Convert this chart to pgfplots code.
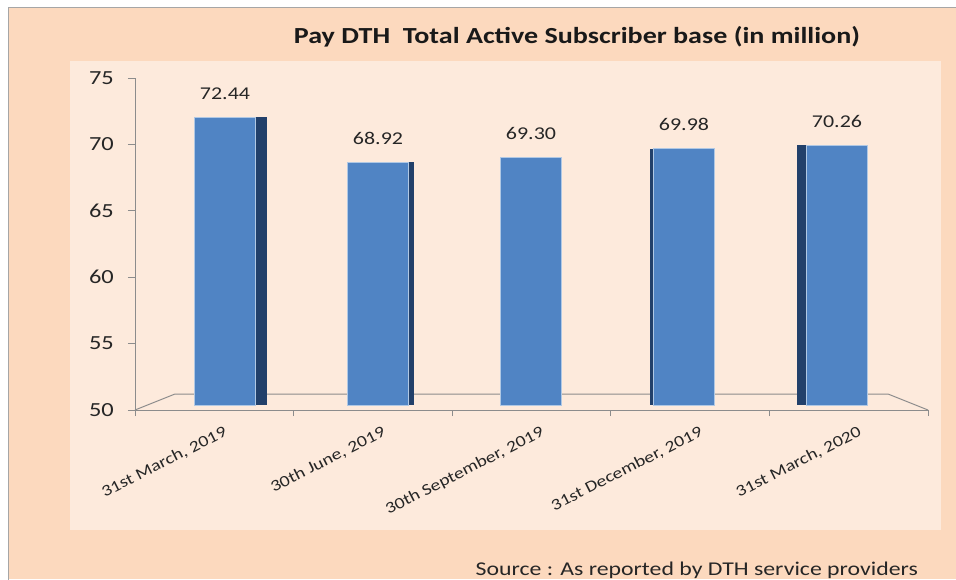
\documentclass[border=0pt]{standalone}
\usepackage{fontspec}
\setmainfont{Carlito}[FakeStretch=1.22]
\usepackage{pgfplots}
\pgfplotsset{compat=1.18}
\definecolor{outerbg}{HTML}{FCD9BE}
\definecolor{innerbg}{HTML}{FDEADC}
\definecolor{barfront}{HTML}{5084C4}
\definecolor{barside}{HTML}{22406A}
\definecolor{gridgray}{HTML}{8C8C8C}
\begin{document}
\begin{tikzpicture}[x=1pt,y=1pt]
\path[use as bounding box] (0,0) rectangle (956,579);
\fill[white] (0,0) rectangle (956,579);
\fill[outerbg] (8,0) rectangle (956,572);
\draw[gray!70, line width=0.8pt] (8,-2) -- (8,572) -- (958,572);
\fill[innerbg] (70,49) rectangle (941,518);
% floor
\draw[gridgray, line width=1pt] (135,169) -- (175,185) -- (888,185) -- (928,169);
% frame axis
\begin{axis}[
  at={(135pt,169pt)}, anchor=south west,
  scale only axis, width=793pt, height=332pt,
  xmin=-0.5, xmax=4.5, ymin=50, ymax=75,
  axis x line*=bottom, axis y line*=left,
  axis line style={gridgray, line width=1pt, -},
  xtick={0,1,2,3,4},
  xticklabels={{31st March, 2019}, {30th June, 2019}, {30th September, 2019}, {31st December, 2019}, {31st March, 2020}},
  major x tick style={draw=none},
  minor xtick={-0.5,0.5,1.5,2.5,3.5,4.5},
  minor tick length=6pt,
  minor x tick style={gridgray, line width=1pt},
  ytick={50,55,...,75},
  major tick length=7pt,
  y tick style={gridgray, line width=1pt},
  tick align=outside,
  /pgf/number format/assume math mode=true,
  yticklabel style={font=\fontsize{20}{24}\selectfont, text=black!85, inner sep=2pt, xshift=-12pt},
  xticklabel style={font=\fontsize{16}{19}\selectfont, text=black!85, rotate=27, anchor=north east, inner sep=1pt, yshift=-10pt, xshift=5pt},
]
\end{axis}
% bars
\begin{axis}[
  at={(148.5pt,174pt)}, anchor=south west,
  scale only axis, width=765pt, height=320.75pt,
  xmin=-0.5, xmax=4.5, ymin=50, ymax=75,
  hide axis, clip=false,
  ybar, bar width=61pt,
]
\addplot[fill=barside, draw=none, bar shift=11pt] coordinates {(0,72.44)};
\addplot[fill=barside, draw=none, bar shift=5pt] coordinates {(1,68.92)};
\addplot[fill=barside, draw=none, bar shift=-4pt] coordinates {(3,69.98)};
\addplot[fill=barside, draw=none, bar shift=-10pt] coordinates {(4,70.26)};
\addplot[fill=barfront, draw=white!55!barfront, line width=0.6pt, bar shift=0pt,
  nodes near coords, point meta=explicit symbolic,
  every node near coord/.append style={font=\fontsize{18}{21}\selectfont, text=black!85, anchor=south, yshift=14pt}]
  coordinates {(0,72.44)[72.44] (1,68.92)[68.92] (2,69.30)[69.30] (3,69.98)[69.98] (4,70.26)[70.26]};
\end{axis}
\node[font=\fontsize{23}{27}\selectfont\bfseries, text=black!90] at (577,542) {Pay DTH\ \ Total Active Subscriber base (in million)};
\node[font=\fontsize{19.5}{23}\selectfont, text=black!85, anchor=base east, inner sep=0pt] at (918,4) {Source : As reported by DTH service providers};
\end{tikzpicture}
\end{document}
